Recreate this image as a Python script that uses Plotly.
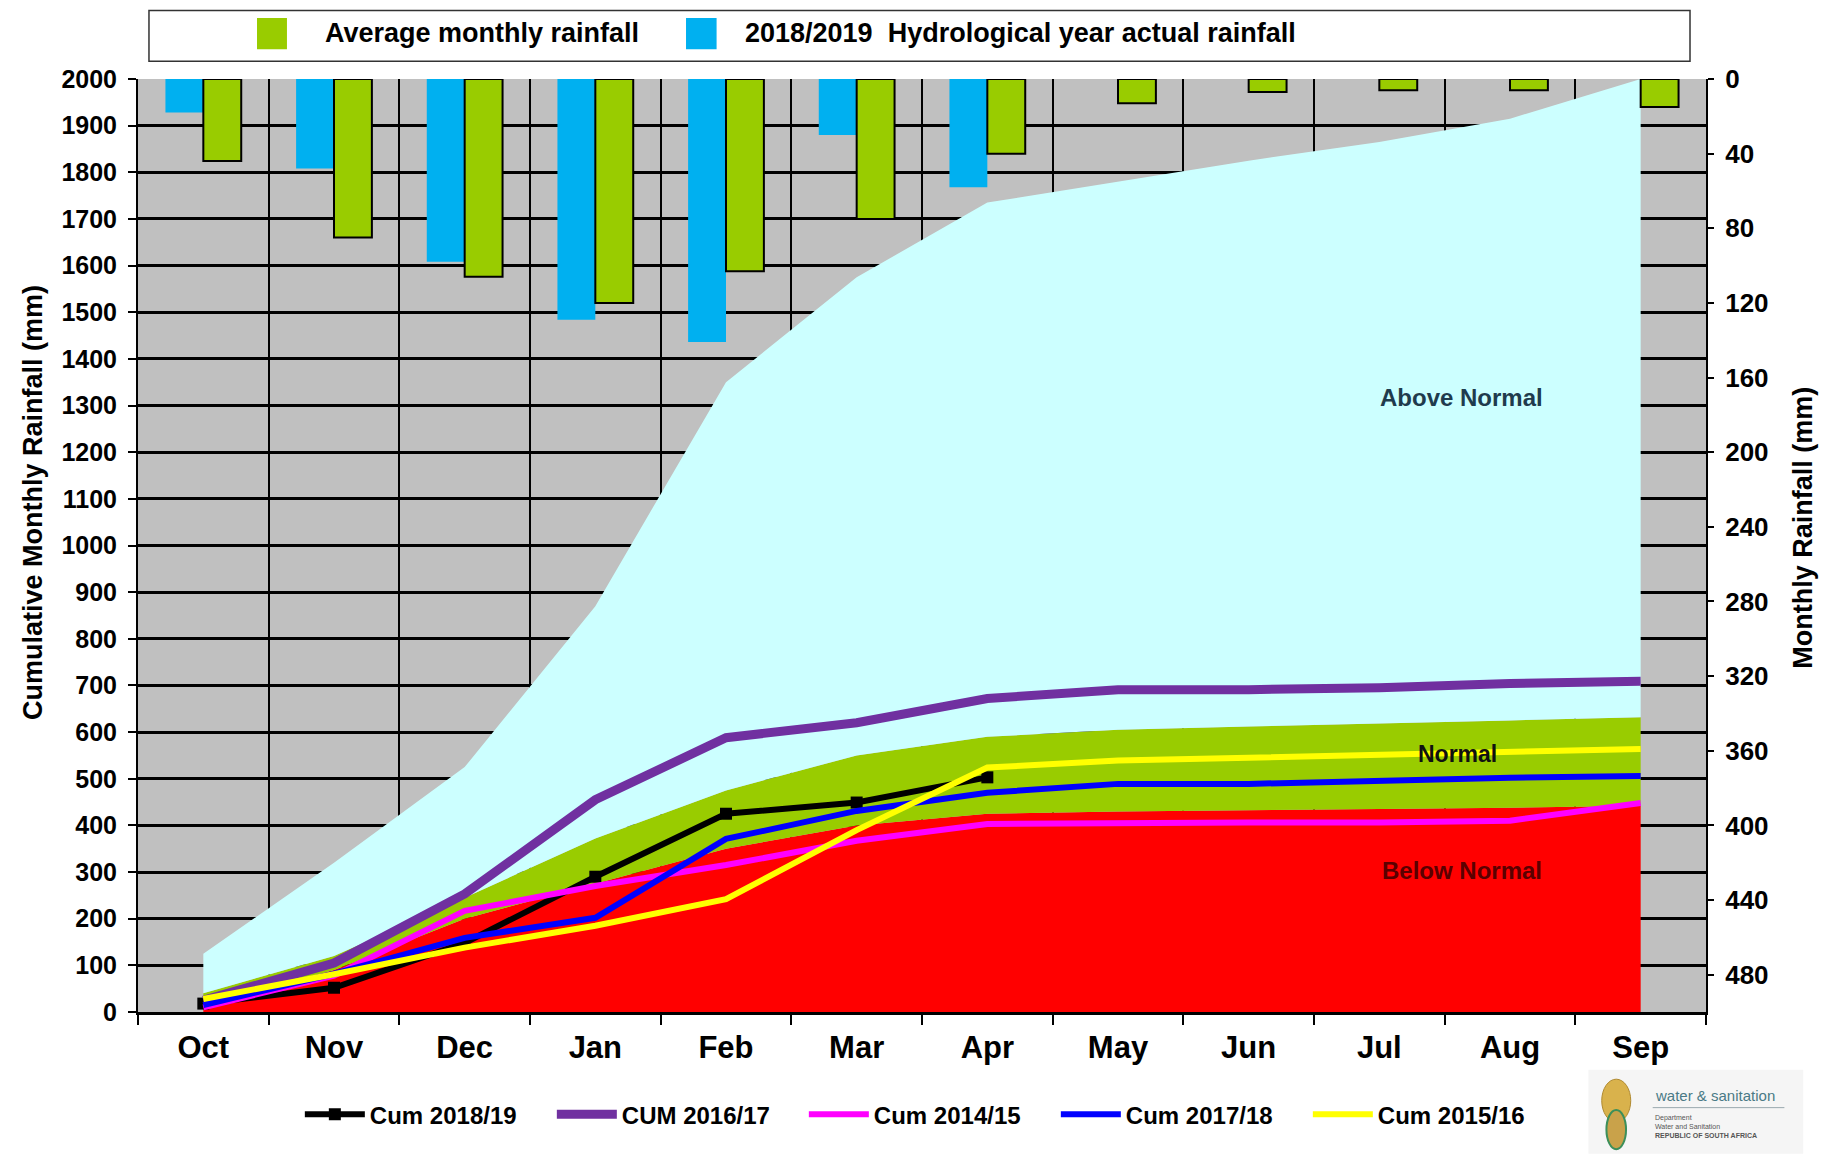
import plotly.graph_objects as go

months = ["Oct", "Nov", "Dec", "Jan", "Feb", "Mar", "Apr", "May", "Jun", "Jul", "Aug", "Sep"]

# Monthly rainfall bars (right axis, mm)
avg_monthly = [44, 85, 106, 120, 103, 75, 40, 13, 7, 6, 6, 15]
actual_2018_19 = [18, 48, 98, 129, 141, 30, 58]

# Cumulative band boundaries (left axis, mm)
below_normal_top = [12, 90, 200, 275, 350, 400, 425, 430, 432, 435, 438, 442]
normal_top = [40, 120, 245, 372, 475, 550, 590, 605, 612, 618, 625, 632]
above_normal_top = [125, 320, 525, 870, 1350, 1575, 1735, 1780, 1825, 1865, 1915, 2000]

# Cumulative series
cum_2018_19 = [18, 52, 148, 290, 425, 449, 503]
cum_2016_17 = [25, 105, 253, 455, 588, 620, 672, 691, 691, 695, 704, 709]
cum_2014_15 = [10, 78, 217, 270, 315, 367, 403, 406, 406, 406, 410, 448]
cum_2017_18 = [15, 82, 159, 202, 371, 431, 470, 489, 489, 497, 502, 506]
cum_2015_16 = [28, 81, 138, 185, 242, 390, 524, 539, 545, 551, 556, 564]

FONT = "Liberation Sans, Arial, sans-serif"

fig = go.Figure()

# Bands
fig.add_trace(go.Scatter(x=months, y=below_normal_top, mode="lines", line=dict(width=0, color="#FF0000"),
                         fill="tozeroy", fillcolor="#FF0000", showlegend=False, hoverinfo="skip"))
fig.add_trace(go.Scatter(x=months, y=normal_top, mode="lines", line=dict(width=0, color="#99CC00"),
                         fill="tonexty", fillcolor="#99CC00", showlegend=False, hoverinfo="skip"))
fig.add_trace(go.Scatter(x=months, y=above_normal_top, mode="lines", line=dict(width=0, color="#CCFFFF"),
                         fill="tonexty", fillcolor="#CCFFFF", showlegend=False, hoverinfo="skip"))

# Cumulative lines
fig.add_trace(go.Scatter(x=months[:len(cum_2018_19)], y=cum_2018_19, mode="lines+markers", name="Cum 2018/19",
                         line=dict(color="#000000", width=6), marker=dict(symbol="square", size=12, color="#000000"),
                         legend="legend"))
fig.add_trace(go.Scatter(x=months, y=cum_2016_17, mode="lines", name="CUM 2016/17",
                         line=dict(color="#7030A0", width=9), legend="legend"))
fig.add_trace(go.Scatter(x=months, y=cum_2014_15, mode="lines", name="Cum 2014/15",
                         line=dict(color="#FF00FF", width=6), legend="legend"))
fig.add_trace(go.Scatter(x=months, y=cum_2017_18, mode="lines", name="Cum 2017/18",
                         line=dict(color="#0000FF", width=6), legend="legend"))
fig.add_trace(go.Scatter(x=months, y=cum_2015_16, mode="lines", name="Cum 2015/16",
                         line=dict(color="#FFFF00", width=6), legend="legend"))

# Monthly bars on secondary (reversed) axis
fig.add_trace(go.Bar(x=months[:len(actual_2018_19)], y=actual_2018_19, yaxis="y2", offsetgroup="a",
                     name="2018/2019  Hydrological year actual rainfall",
                     marker=dict(color="#00B0F0", line=dict(width=0)), showlegend=False))
fig.add_trace(go.Bar(x=months, y=avg_monthly, yaxis="y2", offsetgroup="b",
                     name="Average monthly rainfall",
                     marker=dict(color="#99CC00", line=dict(width=2, color="#000000")), showlegend=False))

shapes = [
    # top legend box
    dict(type="rect", xref="paper", yref="paper", x0=0.007, x1=0.9898, y0=1.019, y1=1.0735,
         fillcolor="white", line=dict(color="#333333", width=1.5), layer="above"),
    dict(type="rect", xref="paper", yref="paper", x0=0.0759, x1=0.0950, y0=1.032, y1=1.0655,
         fillcolor="#99CC00", line=dict(width=0), layer="above"),
    dict(type="rect", xref="paper", yref="paper", x0=0.3495, x1=0.369, y0=1.032, y1=1.0655,
         fillcolor="#00B0F0", line=dict(width=0), layer="above"),
    # logo
    dict(type="rect", xref="paper", yref="paper", x0=0.925, x1=1.062, y0=-0.062, y1=-0.152,
         fillcolor="#F5F5F5", line=dict(width=0), layer="above"),
    dict(type="circle", xref="paper", yref="paper", x0=0.9335, x1=0.952, y0=-0.072, y1=-0.118,
         fillcolor="#D9B24C", line=dict(color="#B08A30", width=1), layer="above"),
    dict(type="circle", xref="paper", yref="paper", x0=0.9365, x1=0.949, y0=-0.105, y1=-0.147,
         fillcolor="#C9A24A", line=dict(color="#3C8F5A", width=2), layer="above"),
    dict(type="line", xref="paper", yref="paper", x0=0.966, x1=1.050, y0=-0.1025, y1=-0.1025,
         line=dict(color="#9AA9AE", width=1), layer="above"),
]

annotations = [
    dict(text="<b>Average monthly rainfall</b>", xref="paper", yref="paper", x=0.118, y=1.049,
         xanchor="left", yanchor="middle", showarrow=False, font=dict(family=FONT, size=27, color="#000000")),
    dict(text="<b>2018/2019  Hydrological year actual rainfall</b>", xref="paper", yref="paper", x=0.386, y=1.049,
         xanchor="left", yanchor="middle", showarrow=False, font=dict(family=FONT, size=27, color="#000000")),
    # axis titles
    dict(text="<b>Cumulative Monthly Rainfall (mm)</b>", xref="paper", yref="paper", x=-0.067, y=0.5466,
         xanchor="center", yanchor="middle", textangle=-90, showarrow=False,
         font=dict(family=FONT, size=27, color="#000000")),
    dict(text="<b>Monthly Rainfall (mm)</b>", xref="paper", yref="paper", x=1.0619, y=0.519,
         xanchor="center", yanchor="middle", textangle=-90, showarrow=False,
         font=dict(family=FONT, size=27, color="#000000")),
    # band labels
    dict(text="<b>Above Normal</b>", x=9.63, y=1318, xref="x", yref="y", showarrow=False,
         font=dict(family=FONT, size=24, color="#1F3B4D")),
    dict(text="<b>Normal</b>", x=9.6, y=554, xref="x", yref="y", showarrow=False,
         font=dict(family=FONT, size=23, color="#111111")),
    dict(text="<b>Below Normal</b>", x=9.63, y=303, xref="x", yref="y", showarrow=False,
         font=dict(family=FONT, size=24, color="#5A0000")),
    # logo text
    dict(text="water &amp; sanitation", xref="paper", yref="paper", x=0.966, y=-0.090, xanchor="left",
         yanchor="middle", showarrow=False, font=dict(family=FONT, size=15, color="#4A7A86")),
    dict(text="Department<br>Water and Sanitation<br><b>REPUBLIC OF SOUTH AFRICA</b>", xref="paper", yref="paper",
         x=0.966, y=-0.107, xanchor="left", yanchor="top", showarrow=False, align="left",
         font=dict(family=FONT, size=7, color="#555555")),
]

fig.update_layout(
    width=1830, height=1154,
    margin=dict(l=130, r=132, t=71, b=150),
    paper_bgcolor="white",
    plot_bgcolor="#C0C0C0",
    barmode="group", bargap=0.42, bargroupgap=0.0,
    font=dict(family=FONT, color="#000000"),
    xaxis=dict(
        type="category", categoryorder="array", categoryarray=months,
        range=[-0.5, 11.5], tickson="boundaries",
        showgrid=True, gridcolor="#000000", gridwidth=2,
        ticks="outside", ticklen=10, tickwidth=2, tickcolor="#000000",
        showline=True, linecolor="#000000", linewidth=3,
        tickfont=dict(family=FONT, size=31, color="#000000", weight="bold"),
        ticklabelstandoff=6, zeroline=False,
    ),
    yaxis=dict(
        range=[0, 2000], dtick=100, tick0=0,
        showgrid=True, gridcolor="#000000", gridwidth=2.5,
        ticks="outside", ticklen=8, tickwidth=2, tickcolor="#000000",
        showline=True, linecolor="#000000", linewidth=2,
        tickfont=dict(family=FONT, size=25, color="#000000", weight="bold"),
        ticklabelstandoff=6,
        zeroline=False,
    ),
    yaxis2=dict(
        overlaying="y", side="right", range=[500, 0],
        tickvals=[0, 40, 80, 120, 160, 200, 240, 280, 320, 360, 400, 440, 480],
        showgrid=False, zeroline=False,
        ticks="outside", ticklen=6, tickwidth=2, tickcolor="#000000",
        showline=True, linecolor="#000000", linewidth=2,
        tickfont=dict(family=FONT, size=26, color="#000000", weight="bold"),
        ticklabelstandoff=6,
    ),
    legend=dict(
        orientation="h", x=0.505, xanchor="center", y=-0.110, yanchor="middle",
        bgcolor="rgba(0,0,0,0)", borderwidth=0,
        font=dict(family=FONT, size=24, color="#000000", weight="bold"),
        itemwidth=60, entrywidth=177, entrywidthmode="pixels", traceorder="normal",
    ),
    shapes=shapes,
    annotations=annotations,
)

fig.write_html("out.html")
